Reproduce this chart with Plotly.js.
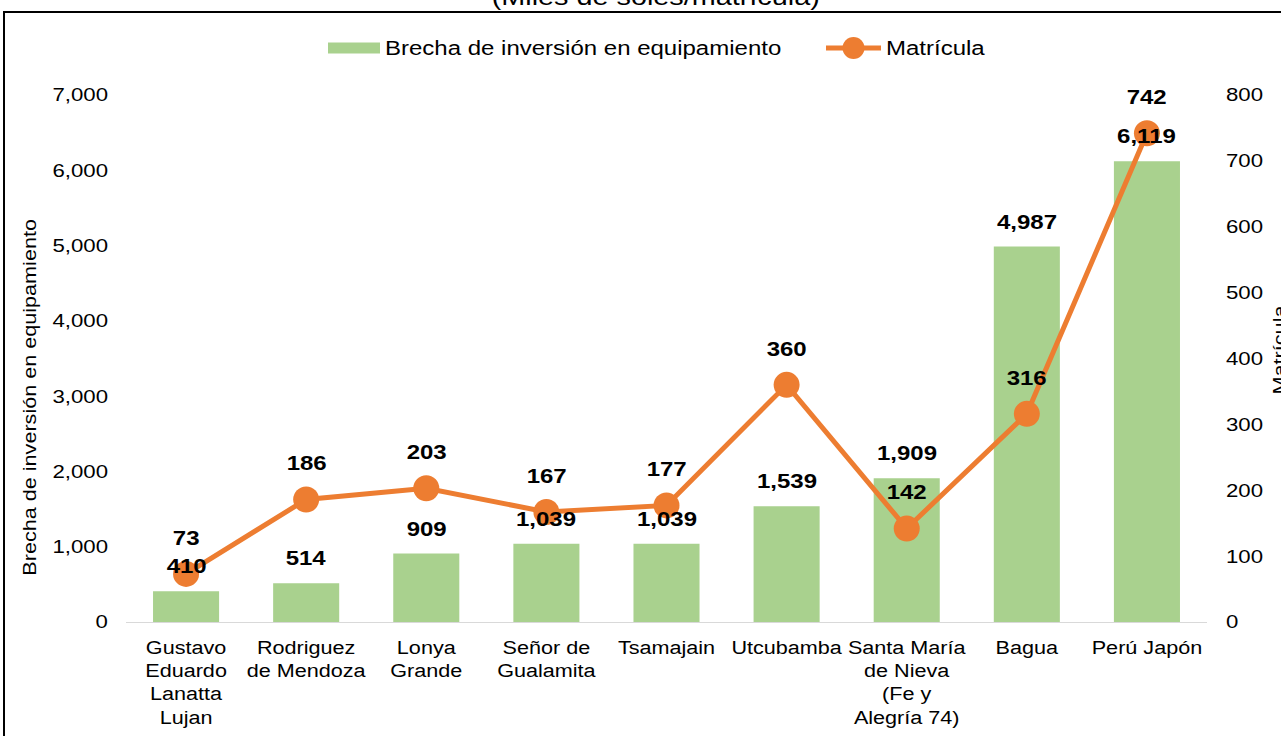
<!DOCTYPE html>
<html>
<head>
<meta charset="utf-8">
<script src="https://cdn.plot.ly/plotly-3.0.1.min.js"></script>
<style>
html,body{margin:0;padding:0;background:#fff;overflow:hidden;}
#chart{width:1281px;height:736px;}
</style>
</head>
<body>
<div id="chart"></div>
<script>
const categories = [
  "Gustavo<br>Eduardo<br>Lanatta<br>Lujan",
  "Rodriguez<br>de Mendoza",
  "Lonya<br>Grande",
  "Señor de<br>Gualamita",
  "Tsamajain",
  "Utcubamba",
  "Santa María<br>de Nieva<br>(Fe y<br>Alegría 74)",
  "Bagua",
  "Perú Japón"
];
const brecha = [410, 514, 909, 1039, 1039, 1539, 1909, 4987, 6119];
const matricula = [73, 186, 203, 167, 177, 360, 142, 316, 742];
const leftTicks = [0, 1000, 2000, 3000, 4000, 5000, 6000, 7000];
const rightTicks = [0, 100, 200, 300, 400, 500, 600, 700, 800];
const seriesNames = ["Brecha de inversión en equipamiento", "Matrícula"];
const chartTitle = "(Miles de soles/matrícula)";

const FONT = "Liberation Sans, Arial, sans-serif";
const GREEN = "#A9D18E";
const ORANGE = "#ED7D31";
const WIDEN = 1.2;

// plot area geometry (pixels)
const M = {l: 126, r: 74, t: 95, b: 114};
const W = 1281 - M.l - M.r, H = 736 - M.t - M.b;
const px = x => (x - M.l) / W;          // pixel x -> paper x
const py = y => (736 - M.b - y) / H;    // pixel y -> paper y

const traces = [
  {
    type: "bar",
    name: seriesNames[0],
    x: categories,
    y: brecha,
    marker: {color: GREEN},
    yaxis: "y",
    hoverinfo: "skip"
  },
  {
    type: "scatter",
    mode: "lines+markers",
    name: seriesNames[1],
    x: categories,
    y: matricula,
    yaxis: "y2",
    line: {color: ORANGE, width: 5},
    marker: {color: ORANGE, size: 26},
    cliponaxis: false,
    hoverinfo: "skip"
  }
];

const fmt = v => v.toLocaleString("en-US");
const labelFont = {family: FONT, size: 20, color: "#000", weight: "bold"};
const annotations = [];
brecha.forEach((v, i) => annotations.push({
  x: categories[i], y: v, xref: "x", yref: "y",
  text: fmt(v), showarrow: false, yanchor: "middle", yshift: 25, font: labelFont
}));
matricula.forEach((v, i) => annotations.push({
  x: categories[i], y: v, xref: "x", yref: "y2",
  text: fmt(v), showarrow: false, yanchor: "middle", yshift: 36, font: labelFont
}));
// axis titles
annotations.push({
  xref: "paper", yref: "paper", x: px(30), y: py(398),
  text: seriesNames[0], textangle: -90,
  showarrow: false, xanchor: "center", yanchor: "middle",
  font: {family: FONT, size: 18, color: "#000"}
});
annotations.push({
  xref: "paper", yref: "paper", x: px(1280), y: py(350),
  text: seriesNames[1], textangle: -90,
  showarrow: false, xanchor: "center", yanchor: "middle",
  font: {family: FONT, size: 18, color: "#000"}
});
// chart title (partly above the visible area)
annotations.push({
  xref: "paper", yref: "paper", x: px(655), y: py(-3),
  text: chartTitle,
  showarrow: false, xanchor: "center", yanchor: "middle",
  font: {family: FONT, size: 24, color: "#000"}
});
// legend texts
annotations.push({
  xref: "paper", yref: "paper", x: px(383), y: py(48),
  text: seriesNames[0], align: "left",
  showarrow: false, xanchor: "left", yanchor: "middle",
  font: {family: FONT, size: 20, color: "#000"}
});
annotations.push({
  xref: "paper", yref: "paper", x: px(884), y: py(48),
  text: seriesNames[1], align: "left",
  showarrow: false, xanchor: "left", yanchor: "middle",
  font: {family: FONT, size: 20, color: "#000"}
});

const shapes = [
  // chart border
  {type: "rect", xref: "paper", yref: "paper",
   x0: px(4), x1: 1.5, y0: -1, y1: py(12),
   line: {color: "#000", width: 2}, fillcolor: "rgba(0,0,0,0)", layer: "below"},
  // legend swatches
  {type: "rect", xref: "paper", yref: "paper",
   x0: px(328), x1: px(380), y0: py(53.5), y1: py(42.5),
   line: {width: 0}, fillcolor: GREEN},
  {type: "line", xref: "paper", yref: "paper",
   x0: px(826), x1: px(881), y0: py(48), y1: py(48),
   line: {color: ORANGE, width: 5}},
  {type: "circle", xref: "paper", yref: "paper",
   x0: px(842.5), x1: px(864.5), y0: py(59), y1: py(37),
   line: {width: 0}, fillcolor: ORANGE}
];

const layout = {
  width: 1281, height: 736,
  margin: M,
  paper_bgcolor: "#fff", plot_bgcolor: "#fff",
  showlegend: false,
  bargap: 0.45,
  xaxis: {
    type: "category", automargin: false,
    range: [-0.5, categories.length - 0.5],
    showline: true, linecolor: "#d9d9d9", linewidth: 1,
    ticks: "", showgrid: false, zeroline: false,
    tickfont: {family: FONT, size: 18, color: "#000"},
    ticklabelstandoff: 9
  },
  yaxis: {
    range: [0, 7000], tickvals: leftTicks, tickformat: ",", automargin: false,
    showgrid: false, zeroline: false, showline: false, ticks: "",
    tickfont: {family: FONT, size: 18.5, color: "#000"},
    ticklabelstandoff: 17
  },
  yaxis2: {
    overlaying: "y", side: "right", automargin: false,
    range: [0, 800], tickvals: rightTicks,
    showgrid: false, zeroline: false, showline: false, ticks: "",
    tickfont: {family: FONT, size: 18.5, color: "#000"},
    ticklabelstandoff: 18
  },
  annotations: annotations,
  shapes: shapes
};

function widenText(root, s) {
  root.querySelectorAll("text").forEach(t => {
    const lines = t.querySelectorAll("tspan.line");
    const targets = lines.length ? Array.from(lines) : [t];
    targets.forEach(el => {
      const L = el.getComputedTextLength();
      if (L > 0) {
        el.setAttribute("textLength", (L * s).toFixed(2));
        el.setAttribute("lengthAdjust", "spacingAndGlyphs");
      }
    });
  });
}

Plotly.newPlot("chart", traces, layout, {displayModeBar: false, staticPlot: true})
  .then(gd => widenText(gd, WIDEN));
</script>
</body>
</html>
